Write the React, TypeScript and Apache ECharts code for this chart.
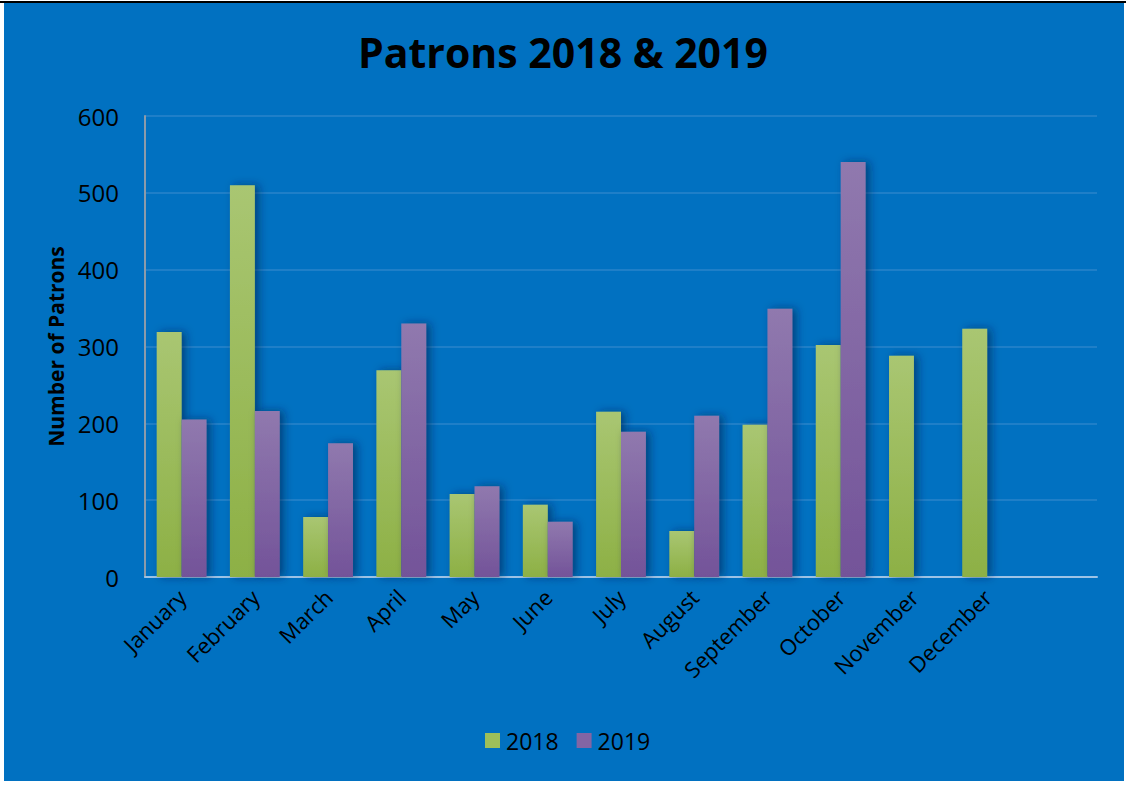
import React, { useEffect, useRef } from "react";
import * as echarts from "echarts";

const months = ["January", "February", "March", "April", "May", "June", "July", "August", "September", "October", "November", "December", ""];
const patrons2018 = [319, 510, 78, 269, 108, 94, 215, 60, 198, 302, 288, 323, null];
const patrons2019 = [205, 216, 174, 330, 118, 72, 189, 210, 349, 540, null, null, null];
const yTicks = { min: 0, max: 600, interval: 100 };

const FONT = "'Open Sans', 'Noto Sans', sans-serif";

export default function App() {
  const ref = useRef<HTMLDivElement>(null);
  useEffect(() => {
    document.body.style.margin = "0";
    const chart = echarts.init(ref.current!, null, { renderer: "svg" });
    const grad = (top: string, bottom: string) =>
      new echarts.graphic.LinearGradient(0, 0, 0, 1, [
        { offset: 0, color: top },
        { offset: 1, color: bottom },
      ]);
    chart.setOption({
      animation: false,
      backgroundColor: "#ffffff",
      graphic: [
        { type: "rect", z: -10, shape: { x: 4, y: 3, width: 1120, height: 778 }, style: { fill: "#0171C1" } },
        { type: "rect", z: -9, shape: { x: 0, y: 1, width: 1126, height: 2 }, style: { fill: "#000000" } },
      ],
      title: {
        text: "Patrons 2018 & 2019",
        left: "center",
        top: 26,
        textStyle: { fontFamily: FONT, fontWeight: "bold", fontSize: 41, color: "#000000" },
      },
      legend: {
        bottom: 30,
        left: 480,
        itemWidth: 15,
        itemHeight: 15,
        itemGap: 18,
        icon: "rect",
        textStyle: { fontFamily: FONT, fontSize: 23, color: "#000000", padding: [0, 0, 0, 1] },
        data: [
          { name: "2018", itemStyle: { color: "#9DBF5A" } },
          { name: "2019", itemStyle: { color: "#8365A4" } },
        ],
      },
      grid: { left: 145, right: 29, top: 116, bottom: 210, containLabel: false },
      xAxis: {
        type: "category",
        data: months,
        axisLine: { show: true, lineStyle: { color: "#9DC3E6", width: 2 } },
        axisTick: { show: false },
        axisLabel: { rotate: 45, interval: 0, margin: 16, fontFamily: FONT, fontSize: 22, color: "#000000" },
      },
      yAxis: {
        type: "value",
        min: yTicks.min,
        max: yTicks.max,
        interval: yTicks.interval,
        name: "Number of Patrons",
        nameLocation: "middle",
        nameGap: 77,
        nameTextStyle: { fontFamily: FONT, fontWeight: "bold", fontSize: 21, color: "#000000" },
        axisLine: { show: true, lineStyle: { color: "#8C9BAA", width: 2 } },
        axisTick: { show: false },
        axisLabel: { margin: 26, fontFamily: FONT, fontSize: 24, color: "#000000" },
        splitLine: { lineStyle: { color: "#2A84CA", width: 1.5 } },
      },
      series: [
        {
          name: "2018",
          type: "bar",
          data: patrons2018,
          barGap: "0%",
          barCategoryGap: "32%",
          itemStyle: {
            color: grad("#A9C672", "#8DB045"),
            shadowColor: "rgba(0,30,70,0.55)",
            shadowBlur: 8,
            shadowOffsetX: 4,
          },
        },
        {
          name: "2019",
          type: "bar",
          data: patrons2019,
          itemStyle: {
            color: grad("#9079AE", "#735399"),
            shadowColor: "rgba(0,30,70,0.55)",
            shadowBlur: 8,
            shadowOffsetX: 4,
          },
        },
      ],
    });
    return () => chart.dispose();
  }, []);
  return <div ref={ref} style={{ width: 1126, height: 787 }} />;
}
